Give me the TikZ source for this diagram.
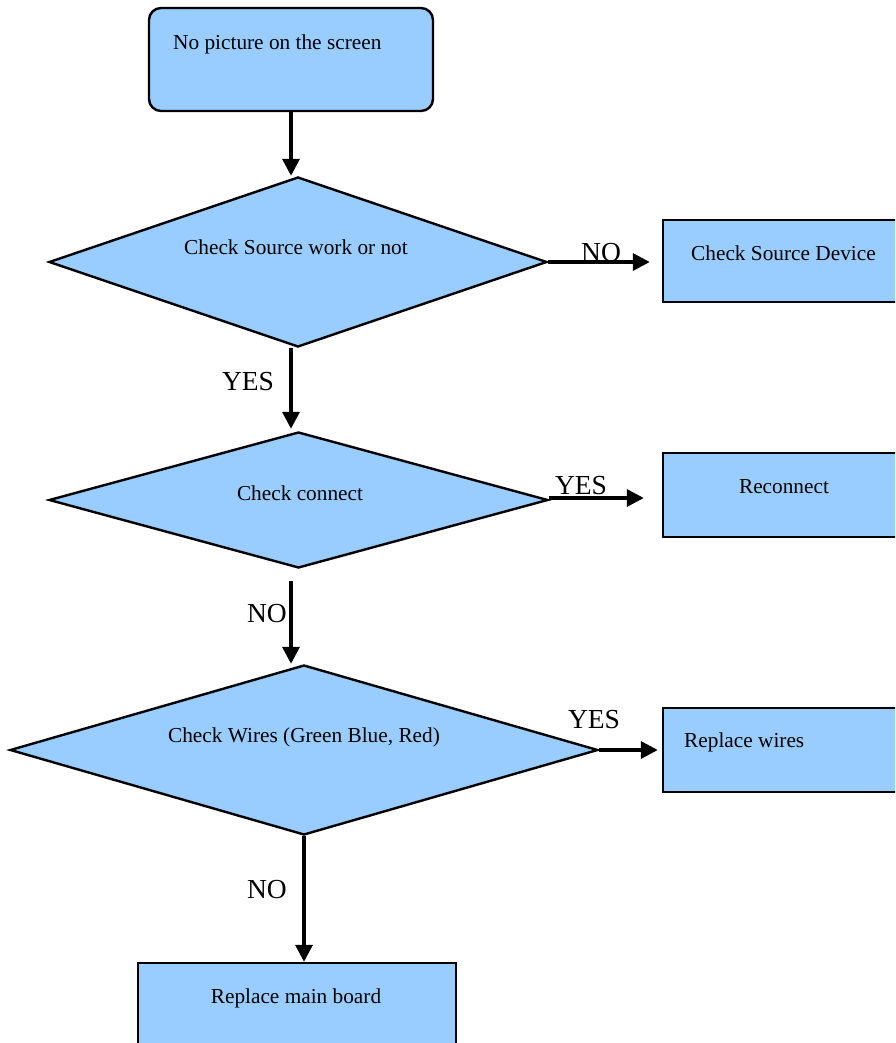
\documentclass[tikz,border=0pt]{standalone}
\usepackage{fontspec}
\setmainfont{Liberation Serif}
\usetikzlibrary{shapes.geometric}
\usetikzlibrary{arrows.meta}
\definecolor{boxblue}{HTML}{99CCFF}

\begin{document}
\begin{tikzpicture}[x=1pt, y=-1pt,
	block/.style={draw, line width=2.4pt, fill=boxblue, inner sep=0pt},
	decision/.style={diamond, draw, line width=2.4pt, fill=boxblue, inner sep=0pt},
	flow/.style={line width=3.4pt, -{Triangle[length=17pt, width=17pt]}},
	txt/.style={font=\fontsize{21.3}{25}\selectfont, inner sep=0pt},
	answer/.style={font=\fontsize{27.5}{31}\selectfont, inner sep=0pt}]
	\clip (0,0) rectangle (895,1043);
	% boxes and decisions
	\node[block, rounded corners=12pt, minimum width=284pt, minimum height=103pt] (start) at (291,59.5) {};
	\node[decision, minimum width=498pt, minimum height=170pt] (src) at (298,262) {};
	\node[decision, minimum width=499pt, minimum height=136pt] (conn) at (298.5,500) {};
	\node[decision, minimum width=588pt, minimum height=170pt] (wires) at (304,750) {};
	\node[block, minimum width=242pt, minimum height=82pt] (srcdev) at (784,261) {};
	\node[block, minimum width=242pt, minimum height=84pt] (reconn) at (784,495) {};
	\node[block, minimum width=242pt, minimum height=84pt] (repwire) at (784,750) {};
	\node[block, minimum width=318pt, minimum height=90pt] (board) at (297,1008) {};
	% texts
	\node[txt, anchor=base west] (starttxt) at (173,50) {No picture on the screen};
	\node[txt, anchor=base] (srctxt) at (296,254) {Check Source work or not};
	\node[txt, anchor=base] (conntxt) at (300,500) {Check connect};
	\node[txt, anchor=base] (wirestxt) at (304,742) {Check Wires (Green Blue, Red)};
	\node[txt, anchor=base west] (srcdevtxt) at (691,260) {Check Source Device};
	\node[txt, anchor=base] (reconntxt) at (784,493) {Reconnect};
	\node[txt, anchor=base west] (repwiretxt) at (684,747) {Replace wires};
	\node[txt, anchor=base] (boardtxt) at (296,1003) {Replace main board};
	% connectors
	\draw[flow] (start.south) -- ([xshift=-7pt]src.north);
	\draw[flow] ([xshift=-7pt]src.south) -- ([xshift=-7.5pt, yshift=2pt]conn.north);
	\draw[flow] (src.east) -- (src.east -| srcdev.west) [shorten >=12pt];
	\draw[flow] ([xshift=-7.5pt, yshift=-12pt]conn.south) -- ([xshift=-13pt]wires.north);
	\draw[flow, shorten >=18pt] ([yshift=2pt]conn.east) -- ([yshift=2pt]conn.east -| reconn.west);
	\draw[flow, shorten >=4pt] (wires.east) -- (wires.east -| repwire.west);
	\draw[flow] (wires.south) -- (wires.south |- board.north);
	% answers
	\node[answer, anchor=base] (yes1) at (248,390) {YES};
	\node[answer, anchor=base] (no1) at (601,261) {NO};
	\node[answer, anchor=base] (yes2) at (581,494) {YES};
	\node[answer, anchor=base] (no2) at (267,622) {NO};
	\node[answer, anchor=base] (yes3) at (594,728) {YES};
	\node[answer, anchor=base] (no3) at (267,898) {NO};
\end{tikzpicture}
\end{document}
